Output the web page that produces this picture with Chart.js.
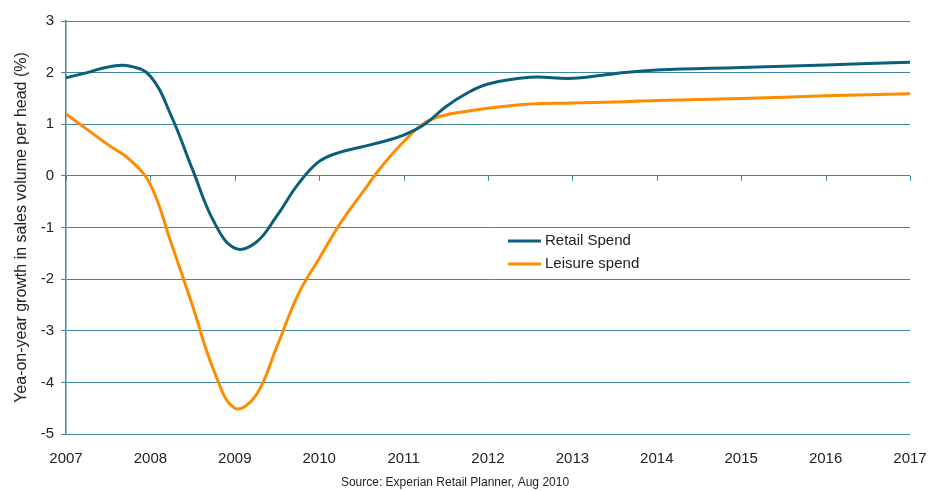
<!DOCTYPE html>
<html>
<head>
<meta charset="utf-8">
<script src="https://cdn.jsdelivr.net/npm/chart.js@4.4.1/dist/chart.umd.min.js"></script>
<style>
    html, body { margin: 0; padding: 0; background: #fff; }
    #wrap { width: 932px; height: 491px; position: relative; }
</style>
</head>
<body>
<div id="wrap"><canvas id="myChart"></canvas></div>
<script>
const years = [2007, 2007.25, 2007.5, 2007.75, 2008, 2008.25, 2008.5, 2008.75, 2009,
    2009.25, 2009.5, 2009.75, 2010, 2010.25, 2010.5, 2010.75, 2011, 2011.25, 2011.5,
    2011.75, 2012, 2012.5, 2013, 2013.5, 2014, 2015, 2016, 2017];

const retailSpend = [1.90, 2.00, 2.11, 2.13, 1.93, 1.15, 0.12, -0.88, -1.40,
    -1.29, -0.77, -0.16, 0.28, 0.46, 0.56, 0.66, 0.79, 1.00, 1.34,
    1.60, 1.78, 1.91, 1.89, 1.98, 2.05, 2.10, 2.15, 2.20];

const leisureSpend = [1.20, 0.90, 0.60, 0.32, -0.17, -1.32, -2.52, -3.76, -4.50,
    -4.25, -3.30, -2.30, -1.60, -0.92, -0.35, 0.20, 0.66, 1.03, 1.18,
    1.25, 1.31, 1.39, 1.41, 1.43, 1.46, 1.50, 1.55, 1.59];

const yearTicks = [2007, 2008, 2009, 2010, 2011, 2012, 2013, 2014, 2015, 2016, 2017];
const yTicks = [3, 2, 1, 0, -1, -2, -3, -4, -5];

const axisTitle = 'Yea-on-year growth in sales volume per head (%)';
const sourceNote = 'Source: Experian Retail Planner, Aug 2010';

const gridColor = '#3f87a0';
const FONT = '"Liberation Sans", Arial, sans-serif';

Chart.defaults.font.family = FONT;
Chart.defaults.color = '#222';

function toPoints(values) {
    return values.map((v, i) => ({ x: years[i], y: v }));
}

// tick marks on the zero line, the legend box and the source note
const extras = {
    id: 'extras',
    afterDatasetsDraw(chart) {
        const ctx = chart.ctx;
        const xs = chart.scales.x;
        const ys = chart.scales.y;
        const zero = ys.getPixelForValue(0);

        ctx.save();
        ctx.strokeStyle = gridColor;
        ctx.lineWidth = 1;
        yearTicks.forEach(yr => {
            const px = Math.round(xs.getPixelForValue(yr)) + 0.5;
            ctx.beginPath();
            ctx.moveTo(px, zero);
            ctx.lineTo(px, zero + 5);
            ctx.stroke();
        });

        // legend
        ctx.fillStyle = '#fff';
        ctx.fillRect(504, 229, 159, 46);
        ctx.font = '15px ' + FONT;
        ctx.textBaseline = 'middle';
        chart.data.datasets.forEach((ds, i) => {
            const y = 241 + i * 23;
            ctx.strokeStyle = ds.borderColor;
            ctx.lineWidth = 3;
            ctx.beginPath();
            ctx.moveTo(508, y);
            ctx.lineTo(541, y);
            ctx.stroke();
            ctx.fillStyle = '#222';
            ctx.fillText(ds.label, 545, y);
        });

        ctx.font = '12px ' + FONT;
        ctx.textAlign = 'center';
        ctx.fillStyle = '#222';
        ctx.fillText(sourceNote, 455, 483);
        ctx.restore();
    }
};

new Chart(document.getElementById('myChart'), {
    type: 'line',
    data: {
        datasets: [{
            label: 'Retail Spend',
            data: toPoints(retailSpend),
            borderColor: '#0b5f7a',
            borderWidth: 3,
            pointRadius: 0,
            tension: 0.4,
            fill: false
        }, {
            label: 'Leisure spend',
            data: toPoints(leisureSpend),
            borderColor: '#ff8c00',
            borderWidth: 3,
            pointRadius: 0,
            tension: 0.4,
            fill: false
        }]
    },
    options: {
        responsive: true,
        maintainAspectRatio: false,
        animation: false,
        layout: {
            padding: { top: 21, right: 22, left: 0, bottom: 0 }
        },
        plugins: {
            legend: { display: false },
            tooltip: { enabled: false }
        },
        scales: {
            x: {
                type: 'linear',
                min: 2007,
                max: 2017,
                afterBuildTicks(scale) {
                    scale.ticks = yearTicks.map(v => ({ value: v }));
                },
                ticks: {
                    callback: v => String(v),
                    font: { size: 15 },
                    padding: 8,
                    maxRotation: 0,
                    autoSkip: false
                },
                grid: { display: false },
                border: { display: false },
                afterFit(scale) {
                    scale.height = 57;
                    scale.paddingLeft = 0;
                    scale.paddingRight = 0;
                }
            },
            y: {
                min: -5,
                max: 3,
                afterBuildTicks(scale) {
                    scale.ticks = yTicks.map(v => ({ value: v }));
                },
                ticks: {
                    font: { size: 15 },
                    padding: 7
                },
                grid: {
                    color: gridColor,
                    lineWidth: 1,
                    tickLength: 5
                },
                border: { color: gridColor, width: 1.5 },
                title: {
                    display: true,
                    text: axisTitle,
                    font: { size: 16 },
                    color: '#222',
                    padding: { top: 12, bottom: 0 }
                },
                afterFit(scale) { scale.width = 66; }
            }
        }
    },
    plugins: [extras]
});
</script>
</body>
</html>
